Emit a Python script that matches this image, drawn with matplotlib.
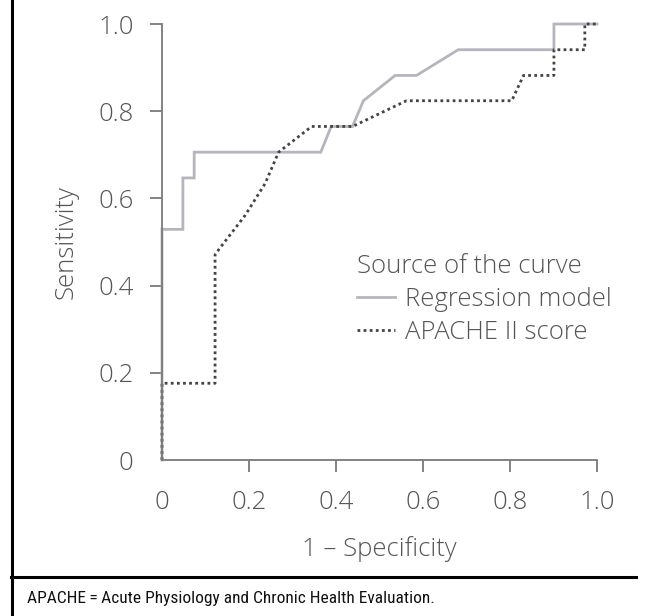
import matplotlib
matplotlib.use("Agg")
import matplotlib.pyplot as plt
from matplotlib.lines import Line2D

# ---- data ----
reg_fpr = [0.0, 0.0, 0.048, 0.048, 0.074, 0.074, 0.365, 0.389, 0.438, 0.463, 0.536, 0.585, 0.681, 0.901, 0.901, 1.0]
reg_tpr = [0.0, 0.529, 0.529, 0.647, 0.647, 0.706, 0.706, 0.765, 0.765, 0.824, 0.882, 0.882, 0.941, 0.941, 1.0, 1.0]

apa_fpr = [0.0, 0.0, 0.122, 0.122, 0.133, 0.191, 0.237, 0.268, 0.344, 0.438, 0.562, 0.804, 0.831, 0.901, 0.901, 0.972, 0.972, 1.0]
apa_tpr = [0.0, 0.176, 0.176, 0.471, 0.486, 0.561, 0.634, 0.706, 0.765, 0.765, 0.824, 0.824, 0.882, 0.882, 0.941, 0.941, 1.0, 1.0]

series_labels = ["Regression model", "APACHE II score"]
legend_title = "Source of the curve"
tick_values = [0, 0.2, 0.4, 0.6, 0.8, 1.0]
tick_labels = ["0", "0.2", "0.4", "0.6", "0.8", "1.0"]
x_label = "1 \u2013 Specificity"
y_label = "Sensitivity"
footnote = "APACHE\u2009=\u2009Acute Physiology and Chronic Health Evaluation."

FONT = ["Open Sans", "DejaVu Sans"]
W = 300
FS = 18.5
TXT = "#555555"
AX = "#7a7a7a"

fig = plt.figure(figsize=(6.51, 6.16), dpi=100)
ax = fig.add_axes([162/651, 1-460/616, 435/651, 436/616])

ax.plot(reg_fpr, reg_tpr, color="#b5b5bd", lw=2.0, clip_on=False, solid_joinstyle="miter")
ax.plot(apa_fpr, apa_tpr, color="#444444", lw=2.0, linestyle=(0, (1, 1.2)), clip_on=False)

ax.set_xlim(0, 1)
ax.set_ylim(0, 1)
for s in ["top", "right"]:
    ax.spines[s].set_visible(False)
for s in ["left", "bottom"]:
    ax.spines[s].set_color(AX)
    ax.spines[s].set_linewidth(1.3)

ax.set_xticks(tick_values)
ax.set_xticklabels(tick_labels, family=FONT, fontsize=FS, color=TXT, fontweight=W)
ax.set_yticks(tick_values)
ax.set_yticklabels(tick_labels, family=FONT, fontsize=FS, color=TXT, fontweight=W)
ax.tick_params(axis="both", length=8.5, width=1.3, color=AX)
ax.tick_params(axis="x", pad=13)
ax.tick_params(axis="y", pad=12)
ax.xaxis.get_major_ticks()[0].tick1line.set_visible(False)
ax.yaxis.get_major_ticks()[0].tick1line.set_visible(False)

ax.set_xlabel(x_label, family=FONT, fontsize=FS, color=TXT, fontweight=W, labelpad=15)
ax.set_ylabel(y_label, family=FONT, fontsize=FS, color=TXT, fontweight=W, labelpad=14)

handles = [Line2D([], [], color="#b5b5bd", lw=2.0),
           Line2D([], [], color="#444444", lw=2.0, linestyle=(0, (1, 1.2)))]
leg = ax.legend(handles, series_labels, title=legend_title, loc="upper left",
                bbox_to_anchor=((357-162)/435, (459-253)/435), frameon=False,
                prop={"family": FONT, "size": FS, "weight": W},
                title_fontproperties={"family": FONT, "size": FS, "weight": W},
                alignment="left", handlelength=1.48, handletextpad=0.39,
                labelspacing=0.32, borderpad=0, borderaxespad=0)
for t in leg.get_texts():
    t.set_color(TXT)
leg.get_title().set_color(TXT)

fig.add_artist(Line2D([12/651, 12/651], [0, 1], color="black", lw=2.2, transform=fig.transFigure))
fig.add_artist(Line2D([11/651, 636/651], [1-577/616, 1-577/616], color="black", lw=2.2, transform=fig.transFigure))
fig.text(27/651, 1-599/616, footnote, family=["Roboto Condensed", "Liberation Sans Narrow", "Liberation Sans"],
         fontsize=12.5, color="#111111", va="center", ha="left")

fig.savefig("out.png", dpi=100)
